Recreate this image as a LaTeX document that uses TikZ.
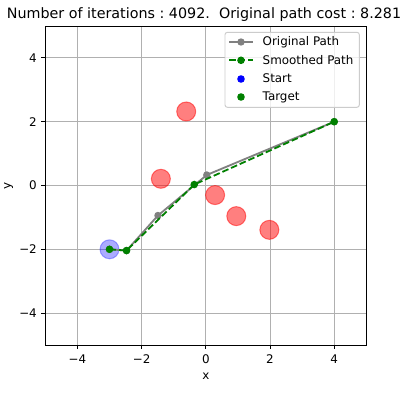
\documentclass[tikz,border=0pt]{standalone}
\usepackage{fontspec}
\setmainfont{DejaVu Sans}
\definecolor{gridgray}{HTML}{B0B0B0}
\definecolor{pathgray}{HTML}{808080}
\definecolor{mplgreen}{HTML}{008000}
\definecolor{legedge}{HTML}{CCCCCC}
\begin{document}
\frenchspacing
\begin{tikzpicture}[x=1pt,y=1pt,
  every node/.style={inner sep=0pt, outer sep=0pt},
  lab/.style={font=\fontsize{11.9}{14}\selectfont},
  gridline/.style={gridgray, line width=0.95pt},
  tickline/.style={black, line width=0.95pt},
  spine/.style={black, line width=0.95pt},
  obstacle/.style={circle, fill=red, fill opacity=0.5, draw=red, draw opacity=0.5, line width=1pt, minimum size=19pt},
  startzone/.style={circle, fill=blue, fill opacity=0.33, draw=blue, draw opacity=0.3, line width=1pt, minimum size=19pt},
  origline/.style={pathgray, line width=1.8pt},
  smoothline/.style={mplgreen, line width=1.8pt, dash pattern=on 6.6pt off 2.9pt},
  origmark/.style={circle, fill=pathgray, minimum size=7.4pt},
  smoothmark/.style={circle, fill=mplgreen, minimum size=7.6pt},
  legbox/.style={draw=legedge, fill=white, fill opacity=0.8, line width=0.95pt, rounded corners=2.4pt}
]
\useasboundingbox (0,0) rectangle (401,402);
\fill[white] (0,0) rectangle (401,402);

% title
\node[anchor=base, font=\fontsize{14.3}{17}\selectfont] (title) at (204,383)
  {Number of iterations : 4092.\ \ Original path cost : 8.281};

\begin{scope}[shift={(205.8,216.5)}, x=32.1pt, y=31.9pt]
  % grid
  \foreach \v in {-4,-2,0,2,4} {
    \draw[gridline] (\v,-5) -- (\v,5);
    \draw[gridline] (-5,\v) -- (5,\v);
  }
  % obstacles
  \node[obstacle] (ob1) at (-1.40,0.21) {};
  \node[obstacle] (ob2) at (-0.61,2.32) {};
  \node[obstacle] (ob3) at (0.29,-0.30) {};
  \node[obstacle] (ob4) at (0.95,-0.96) {};
  \node[obstacle] (ob5) at (1.98,-1.39) {};
  % start zone
  \node[startzone] (sz) at (-3,-2) {};
  % original path
  \coordinate (o1) at (-3,-2);
  \coordinate (o2) at (-2.47,-2.04);
  \coordinate (o3) at (-1.49,-0.94);
  \coordinate (o4) at (0.03,0.33);
  \coordinate (o5) at (4,2);
  \draw[origline] (o1) -- (o2) -- (o3) -- (o4) -- (o5);
  \foreach \c in {o1,o2,o3,o4,o5} \node[origmark] (m\c) at (\c) {};
  % smoothed path
  \coordinate (s1) at (-3,-2);
  \coordinate (s2) at (-2.47,-2.04);
  \coordinate (s3) at (-0.36,0.03);
  \coordinate (s4) at (4,2);
  \draw[smoothline] (s1) -- (s2) -- (s3) -- (s4);
  \foreach \c in {s1,s2,s3,s4} \node[smoothmark] (m\c) at (\c) {};
  % spines
  \draw[spine] (-5,-5) rectangle (5,5);
  % ticks and tick labels
  \foreach \v/\l [count=\i] in {-4/−4,-2/−2,0/0,2/2,4/4} {
    \draw[tickline] (\v,-5) -- ++(0,-4.2pt);
    \draw[tickline] (-5,\v) -- ++(-4.2pt,0);
    \node[lab, anchor=base] (xt\i) at ([yshift=-18.3pt]\v,-5) {\l};
    \node[lab, anchor=base east] (yt\i) at ([xshift=-8.5pt,yshift=-4.35pt]-5,\v) {\l};
  }
\end{scope}

% axis labels
\node[lab, anchor=base] (xlabel) at (205.8,22.7) {x};
\node[lab, anchor=base, rotate=90] (ylabel) at (10.5,216.5) {y};

% legend
\node[legbox, minimum width=134.3pt, minimum height=75pt, anchor=north west] (legend) at (225,369.7) {};
\coordinate (r1) at (0,360);
\coordinate (r2) at (0,341.7);
\coordinate (r3) at (0,323);
\coordinate (r4) at (0,305);
\coordinate (h1a) at (229,360);   \coordinate (h1b) at (253.3,360);
\coordinate (h2a) at (229,341.7); \coordinate (h2b) at (253.3,341.7);
\draw[origline] (h1a) -- (h1b);
\node[origmark] (lm1) at (241,360) {};
\draw[smoothline] (h2a) -- (h2b);
\node[smoothmark] (lm2) at (241,341.7) {};
\node[circle, fill=blue, minimum size=7.6pt] (lm3) at (241,323) {};
\node[smoothmark] (lm4) at (241,305) {};
\node[lab, anchor=base west] (lt1) at (262.7,356.1) {Original Path};
\node[lab, anchor=base west] (lt2) at (262.7,337.8) {Smoothed Path};
\node[lab, anchor=base west] (lt3) at (262.7,319.1) {Start};
\node[lab, anchor=base west] (lt4) at (262.7,301.1) {Target};
\end{tikzpicture}
\end{document}
